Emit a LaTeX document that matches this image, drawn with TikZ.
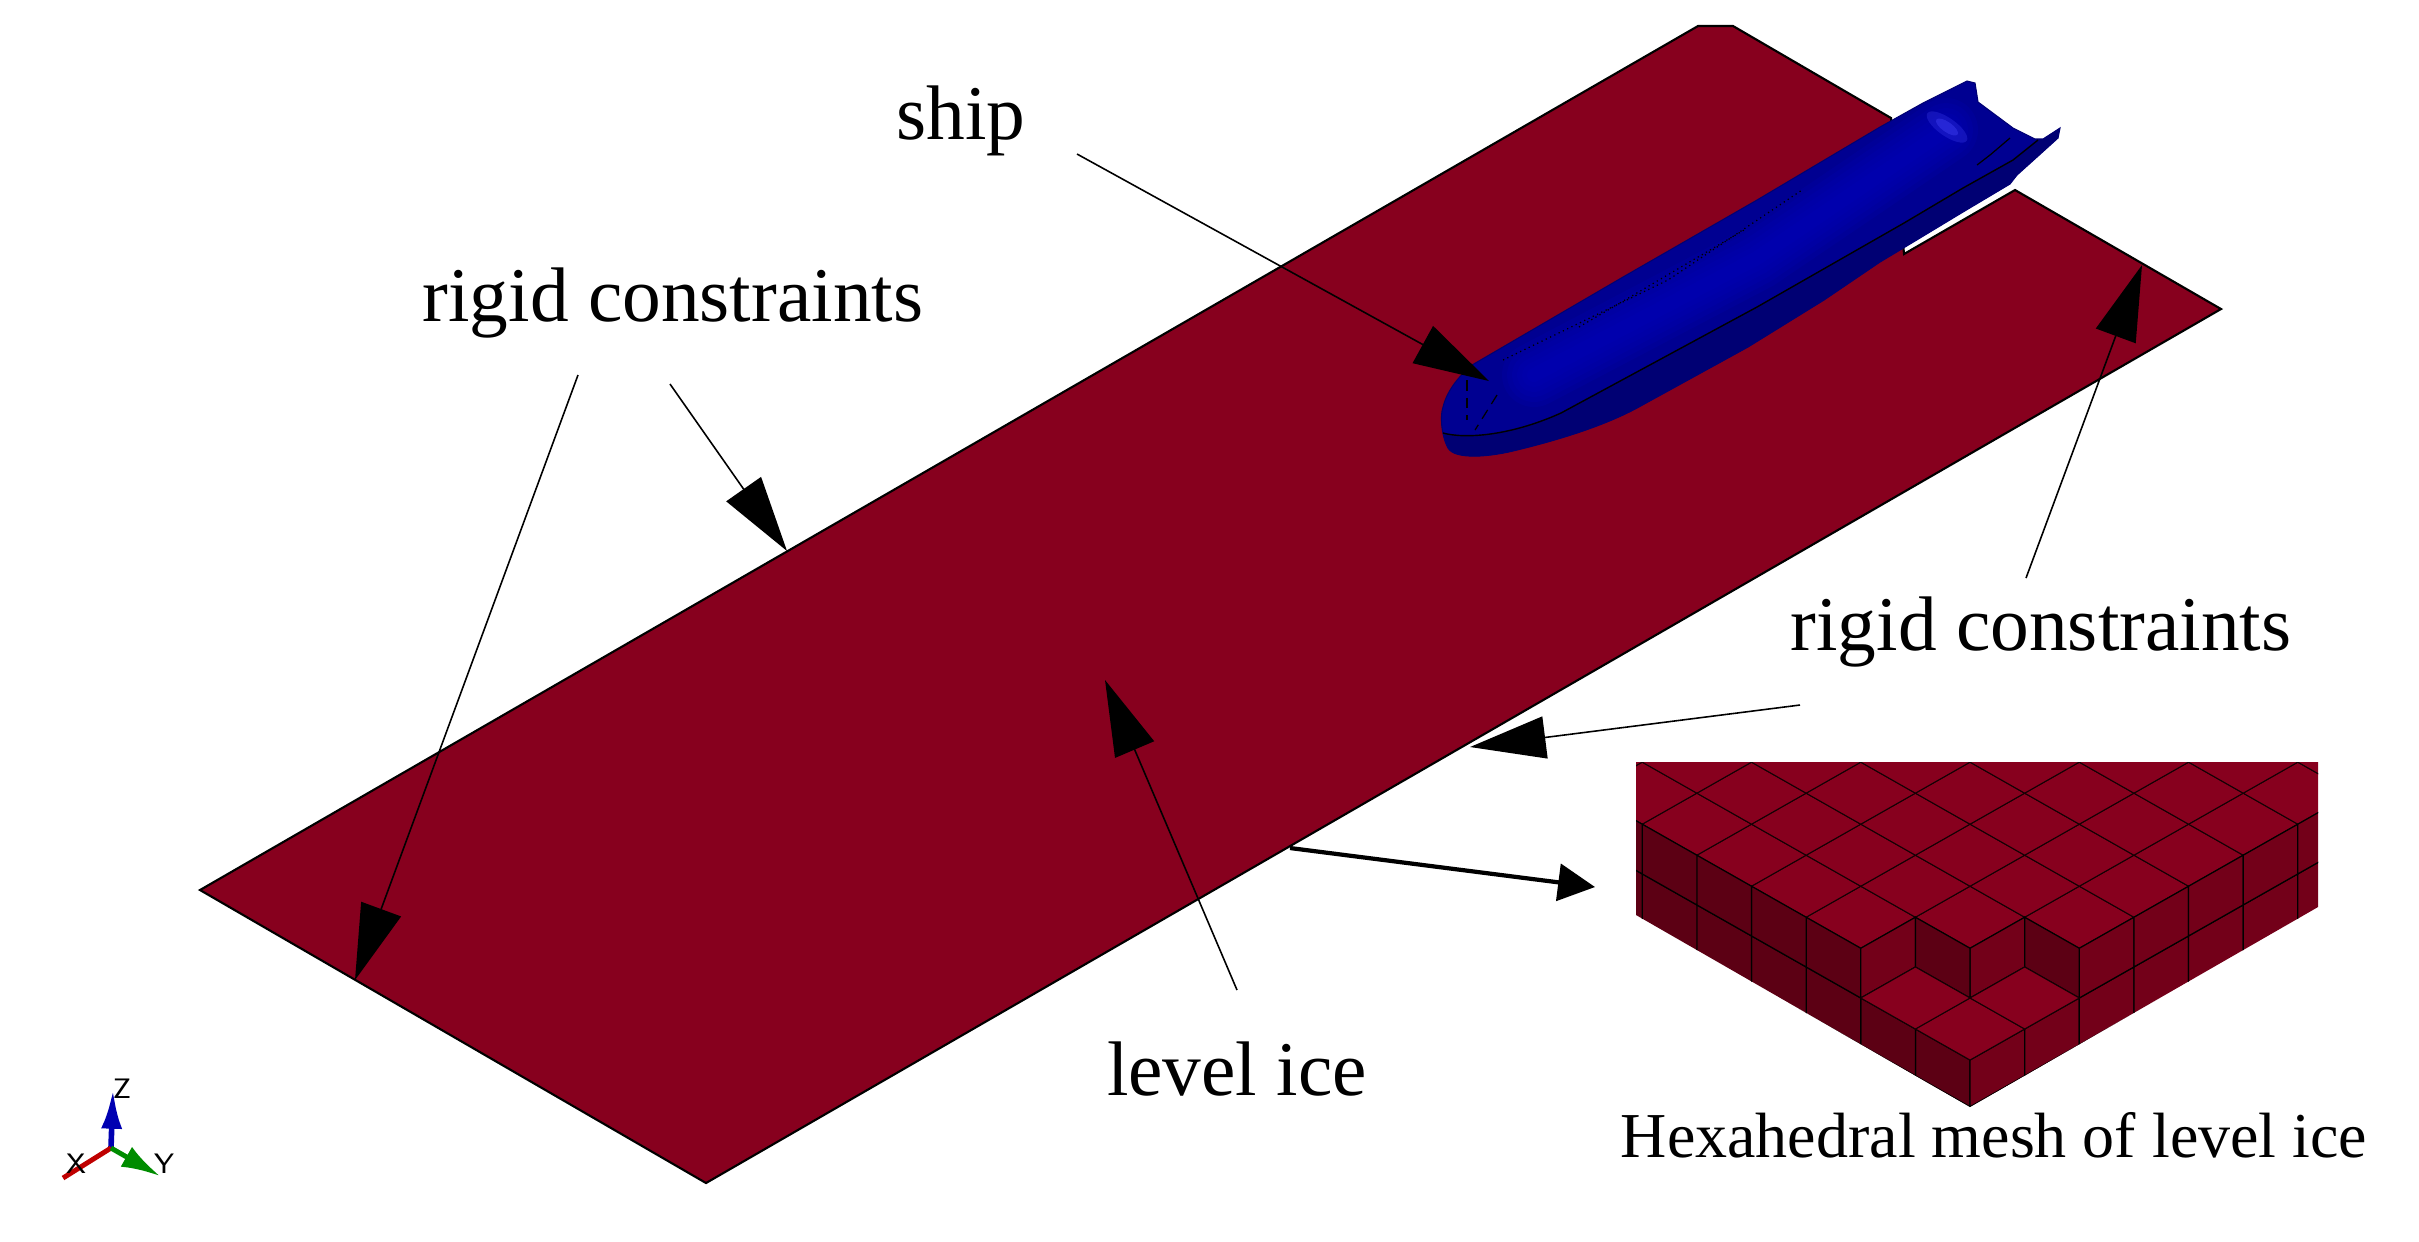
\documentclass[tikz,border=0pt]{standalone}
\usepackage{fontspec}
\setmainfont{Liberation Serif}
\usetikzlibrary{arrows.meta,positioning}
\definecolor{icered}{RGB}{135,0,30}
\definecolor{iceleft}{RGB}{92,0,20}
\definecolor{iceright}{RGB}{115,0,25}
\definecolor{hullblue}{RGB}{0,0,145}
\definecolor{hulldark}{RGB}{0,0,115}
\tikzset{
  label/.style={inner sep=0pt,font=\fontsize{22}{26}\selectfont},
  pointer/.style={draw=black,line width=0.45pt,-{Triangle[length=21.5pt,width=12pt]}},
  topface/.style={fill=icered,draw=black!85!icered,line width=0.3pt},
  leftface/.style={fill=iceleft,draw=black,line width=0.35pt},
  rightface/.style={fill=iceright,draw=black,line width=0.35pt},
  axislabel/.style={inner sep=0pt,font=\fontsize{8}{8}\sffamily}
}
\begin{document}
\begin{tikzpicture}[x=0.01cm,y=-0.01cm]
\useasboundingbox (0,0) rectangle (2419,1241);

% Level ice plate
\fill[icered,draw=black,line width=0.6pt] (200,890) -- (1698,26) -- (1733,26) -- (1891,118) -- (1904,254) -- (2015,190)
  -- (2221,309) -- (706,1183) -- cycle;

% Ship hull
\path[fill=hullblue,draw=hulldark,line width=0.3pt,save path=\hullpath] (1967,81) -- (1975,83) -- (1978,102) -- (2013,128) -- (2035,139)
  -- (2043,139) -- (2060,128) -- (2058,138) -- (2037,157) -- (2017,175) -- (2010,184) -- (1963,212) -- (1920,238) -- (1880,262)
  -- (1824,300) -- (1748,347) -- (1637,408)
  .. controls (1600,428) and (1550,442) .. (1517,450)
  .. controls (1490,457) and (1455,460) .. (1448,448)
  .. controls (1441,435) and (1440,415) .. (1443,407)
  .. controls (1447,390) and (1460,375) .. (1472,365)
  -- (1623,277) -- (1757,200) -- (1880,127) -- (1923,103) -- cycle;
\begin{scope}
  \clip[use path=\hullpath];
  \foreach \w in {14,24,...,64} {
    \draw[blue!75!black,opacity=0.16,line width=\w*0.01cm,line cap=round]
      (1534,375) -- (1757,258) -- (1946,130);
  }
  \fill[blue!70!white,opacity=0.25,rotate around={-35:(1947,127)}] (1947,127) ellipse (24 and 9);
  \fill[blue!70!white,opacity=0.35,rotate around={-35:(1947,127)}] (1947,127) ellipse (13 and 5);
  \fill[hulldark] (1443,433) .. controls (1465,439) and (1510,436) .. (1561,413) -- (1757,307) -- (1904,223)
    -- (1963,188) -- (2013,160) -- (2038,140) -- (2070,120) -- (2070,200) -- (1891,280) -- (1637,430) -- (1440,470) -- cycle;
\end{scope}
\draw[black,line width=0.4pt] (1443,433) .. controls (1465,439) and (1510,436) .. (1561,413)
  -- (1757,307) -- (1904,223) -- (1963,188) -- (2013,160) -- (2038,140);
\draw[black,line width=0.35pt,densely dotted] (1503,360) -- (1668,280) -- (1802,190);
\draw[black,line width=0.35pt,densely dotted] (1579,327) -- (1744,230);
\draw[black,line width=0.35pt] (1977,165) -- (1990,155) -- (2010,138);
\draw[black,line width=0.35pt,densely dashed] (1467,380) -- (1467,420);
\draw[black,line width=0.35pt,densely dashed] (1497,395) -- (1475,430);

% Hexahedral mesh
\begin{scope}
  \clip (1636,762) -- (2318,762) -- (2318,907) -- (1970,1107) -- (1636,915) -- cycle;
  \begin{scope}[shift={(1970,1060)},x={(-0.546cm,0.31cm)},y={(0.546cm,0.31cm)},z={(0cm,0.497cm)}]
    % top of upper layer
    \foreach \i in {0,...,8} \foreach \j in {0,...,8} {
      \filldraw[topface] (\i,\j,1) -- (\i+1,\j,1) -- (\i+1,\j+1,1) -- (\i,\j+1,1) -- cycle;
    }
    % walls of lower layer
    \foreach \i in {0,...,7} {
      \filldraw[leftface] (\i,0,0) -- (\i+1,0,0) -- (\i+1,0,-0.94) -- (\i,0,-0.94) -- cycle;
      \filldraw[rightface] (0,\i,0) -- (0,\i+1,0) -- (0,\i+1,-0.94) -- (0,\i,-0.94) -- cycle;
    }
    % walls of upper layer
    \foreach \i in {2,...,7} {
      \filldraw[leftface] (\i,0,1) -- (\i+1,0,1) -- (\i+1,0,0) -- (\i,0,0) -- cycle;
      \filldraw[rightface] (0,\i,1) -- (0,\i+1,1) -- (0,\i+1,0) -- (0,\i,0) -- cycle;
    }
    \filldraw[rightface] (2,0,1) -- (2,1,1) -- (2,1,0) -- (2,0,0) -- cycle;
    \filldraw[rightface] (1,1,1) -- (1,2,1) -- (1,2,0) -- (1,1,0) -- cycle;
    \filldraw[leftface] (1,1,1) -- (2,1,1) -- (2,1,0) -- (1,1,0) -- cycle;
    \filldraw[leftface] (0,2,1) -- (1,2,1) -- (1,2,0) -- (0,2,0) -- cycle;
    % lower steps
    \filldraw[topface] (0,0,0) -- (1,0,0) -- (1,1,0) -- (0,1,0) -- cycle;
    \filldraw[topface] (1,0,0) -- (2,0,0) -- (2,1,0) -- (1,1,0) -- cycle;
    \filldraw[topface] (0,1,0) -- (1,1,0) -- (1,2,0) -- (0,2,0) -- cycle;
  \end{scope}
\end{scope}

% Labels
\node[label] (ship) at (961,121) {ship};
\node[label] (rigidleft) at (673,303) {rigid constraints};
\node[label] (rigidright) at (2041,632) {rigid constraints};
\node[label] (levelice) at (1237,1069) {level ice};
\node[label,font=\fontsize{18.2}{22}\selectfont] (meshlabel) at (1994,1135) {Hexahedral mesh of level ice};

% Pointer ends
\coordinate (shipstart) at (1077,154);
\coordinate (shiptip) at (1489,381);
\coordinate (rigidastart) at (670,384);
\coordinate (rigidatip) at (787,551);
\coordinate (rigidbstart) at (578,375);
\coordinate (rigidbtip) at (355,980);
\coordinate (rigidcstart) at (2026,578);
\coordinate (rigidctip) at (2142,265);
\coordinate (rigiddstart) at (1800,705);
\coordinate (rigiddtip) at (1470,747);
\coordinate (icestart) at (1237,990);
\coordinate (icetip) at (1105,680);
\coordinate (meshstart) at (1290,848);
\coordinate (meshtip) at (1595,887);

\draw[pointer] (shipstart) -- (shiptip);
\draw[pointer] (rigidastart) -- (rigidatip);
\draw[pointer] (rigidbstart) -- (rigidbtip);
\draw[pointer] (rigidcstart) -- (rigidctip);
\draw[pointer] (rigiddstart) -- (rigiddtip);
\draw[pointer] (icestart) -- (icetip);
\draw[line width=1.2pt,-{Triangle[length=10.5pt,width=10.5pt]}] (meshstart) -- (meshtip);

% Axis triad
\coordinate (axisorigin) at (111,1148);
\coordinate (axisz) at (113,1090);
\coordinate (axisx) at (63,1178);
\coordinate (axisy) at (160,1176);
\draw[blue!70!black,line width=1.6pt,-{Latex[length=11pt,width=6pt]}] (axisorigin) -- (axisz);
\draw[red!75!black,line width=1.4pt] (axisorigin) -- (axisx);
\draw[green!55!black,line width=1.4pt,-{Latex[length=11pt,width=6.5pt]}] (axisorigin) -- (axisy);
\node[axislabel] (zlabel) at (122,1089) {Z};
\node[axislabel] (xlabel) at (76,1164) {X};
\node[axislabel] (ylabel) at (164,1164) {Y};
\end{tikzpicture}
\end{document}
